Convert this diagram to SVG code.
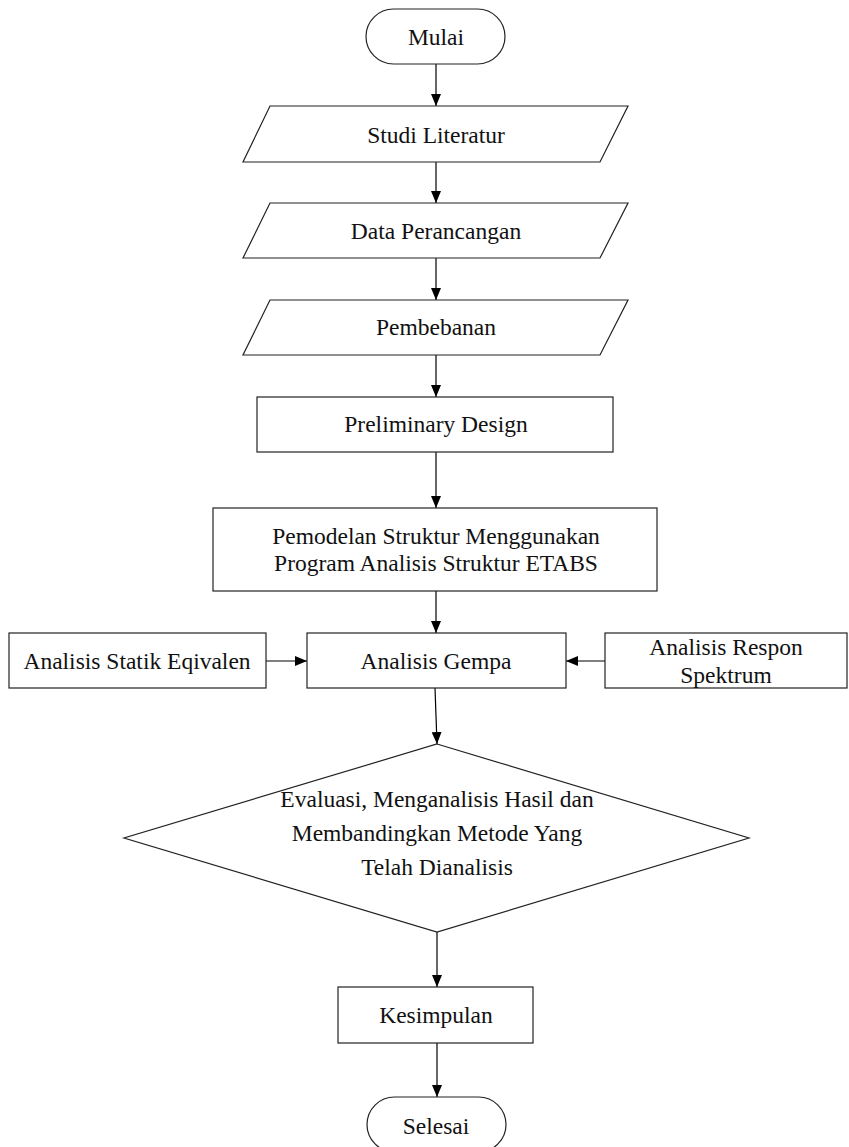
<svg xmlns="http://www.w3.org/2000/svg" width="849" height="1147" viewBox="0 0 849 1147">
<style>
.s{fill:#fff;stroke:#222;stroke-width:1.2}
.t{font-family:"Liberation Serif","Times New Roman",serif;font-size:23.5px;fill:#111;text-anchor:middle;dominant-baseline:central}
.c{fill:none;stroke:#000;stroke-width:1.2}
</style>
<defs>
<marker id="ah" markerUnits="userSpaceOnUse" markerWidth="12" markerHeight="10" viewBox="0 0 12 10" refX="12" refY="5" orient="auto">
<path d="M0,0 L12,5 L0,10 z" fill="#000"/>
</marker>
</defs>
<rect width="849" height="1147" fill="#fff"/>
<g id="connectors">
<line class="c" x1="436" y1="64" x2="436" y2="106" marker-end="url(#ah)"/>
<line class="c" x1="436" y1="162" x2="436" y2="203" marker-end="url(#ah)"/>
<line class="c" x1="436" y1="258" x2="436" y2="300" marker-end="url(#ah)"/>
<line class="c" x1="436" y1="355" x2="436" y2="397" marker-end="url(#ah)"/>
<line class="c" x1="436" y1="452" x2="436" y2="508" marker-end="url(#ah)"/>
<line class="c" x1="436" y1="591" x2="436" y2="633" marker-end="url(#ah)"/>
<line class="c" x1="266" y1="661" x2="307" y2="661" marker-end="url(#ah)"/>
<line class="c" x1="605" y1="661" x2="566" y2="661" marker-end="url(#ah)"/>
<line class="c" x1="435" y1="688" x2="437" y2="744" marker-end="url(#ah)"/>
<line class="c" x1="437" y1="932" x2="437" y2="987" marker-end="url(#ah)"/>
<line class="c" x1="437" y1="1043" x2="437" y2="1097" marker-end="url(#ah)"/>
</g>
<g id="mulai">
<rect class="s" x="366" y="9" width="139" height="55" rx="27.5"/>
<text class="t" x="436" y="37">Mulai</text>
</g>
<g id="studi">
<polygon class="s" points="270,106 628,106 600,162 243,162"/>
<text class="t" x="436" y="135">Studi Literatur</text>
</g>
<g id="data">
<polygon class="s" points="270,203 628,203 600,258 243,258"/>
<text class="t" x="436" y="231">Data Perancangan</text>
</g>
<g id="pembebanan">
<polygon class="s" points="270,300 628,300 600,355 243,355"/>
<text class="t" x="436" y="327">Pembebanan</text>
</g>
<g id="preliminary">
<rect class="s" x="257" y="397" width="356" height="55"/>
<text class="t" x="436" y="424">Preliminary Design</text>
</g>
<g id="pemodelan">
<rect class="s" x="213" y="508" width="444" height="83"/>
<text class="t" x="436" y="536">Pemodelan Struktur Menggunakan</text>
<text class="t" x="436" y="563">Program Analisis Struktur ETABS</text>
</g>
<g id="gempa">
<rect class="s" x="307" y="633" width="259" height="55"/>
<text class="t" x="436" y="661">Analisis Gempa</text>
</g>
<g id="statik">
<rect class="s" x="9" y="633" width="257" height="55"/>
<text class="t" x="137" y="661">Analisis Statik Eqivalen</text>
</g>
<g id="respon">
<rect class="s" x="605" y="633" width="242" height="55"/>
<text class="t" x="726" y="647">Analisis Respon</text>
<text class="t" x="726" y="675">Spektrum</text>
</g>
<g id="evaluasi">
<polygon class="s" points="437,744 749,838 437,932 124,838"/>
<text class="t" x="437" y="799">Evaluasi, Menganalisis Hasil dan</text>
<text class="t" x="437" y="833">Membandingkan Metode Yang</text>
<text class="t" x="437" y="867">Telah Dianalisis</text>
</g>
<g id="kesimpulan">
<rect class="s" x="338" y="987" width="195" height="56"/>
<text class="t" x="436" y="1015">Kesimpulan</text>
</g>
<g id="selesai">
<rect class="s" x="367" y="1097" width="139" height="55" rx="27.5"/>
<text class="t" x="436" y="1126">Selesai</text>
</g>
</svg>
